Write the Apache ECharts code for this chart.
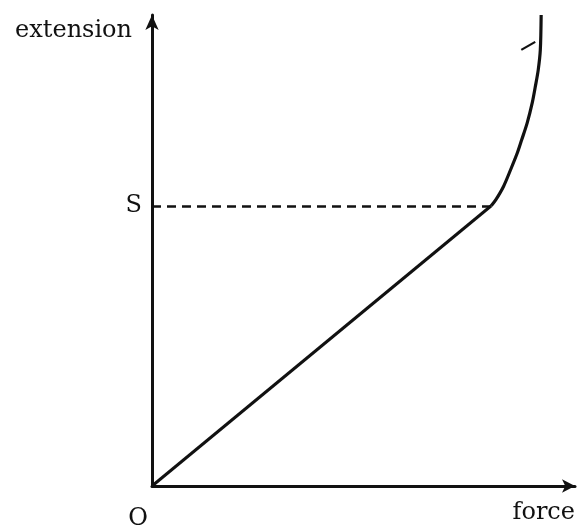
<!DOCTYPE html>
<html>
<head>
<meta charset="utf-8">
<script src="https://cdn.jsdelivr.net/npm/echarts@6/dist/echarts.min.js"></script>
<style>
  html, body { margin: 0; padding: 0; background: #fff; }
  #main { width: 578px; height: 531px; }
</style>
</head>
<body>
<div id="main"></div>
<script>
// force / extension values (axis runs 0..10 both ways)
var linearPart = [[0, 0], [8.02, 5.95]];
var curvedPart = [
  [8.02, 5.95], [8.13, 6.08], [8.31, 6.36], [8.48, 6.72], [8.64, 7.08],
  [8.74, 7.35], [8.87, 7.71], [8.99, 8.14], [9.06, 8.47], [9.13, 8.83],
  [9.18, 9.26], [9.20, 10.0]
];
var tickMark = [[8.73, 9.26], [9.06, 9.43]];
var limitS = 5.95;
var labelS = 'S';
var labelO = 'O';
var xName = 'force';
var yName = 'extension';

var ink = '#111';
var serif = 'DejaVu Serif';

var chart = echarts.init(document.getElementById('main'));

chart.setOption({
  backgroundColor: '#fff',
  animation: false,
  grid: { left: 152, top: 15, width: 425, height: 472, containLabel: false },
  xAxis: {
    type: 'value',
    min: 0, max: 10, interval: 10,
    name: xName,
    nameLocation: 'end',
    nameGap: 0,
    nameMoveOverlap: false,
    nameTextStyle: {
      color: ink, fontFamily: serif, fontSize: 24,
      align: 'right', verticalAlign: 'top', padding: [15, 0, 0, 0]
    },
    axisLine: {
      show: true, onZero: false,
      symbol: ['none', 'arrow'], symbolSize: [10, 13],
      lineStyle: { color: ink, width: 3 }
    },
    axisTick: { show: false },
    splitLine: { show: false },
    axisLabel: {
      color: ink, fontFamily: serif, fontSize: 24,
      margin: 21, align: 'right', padding: [0, 4, 0, 0],
      formatter: function(v) { return v === 0 ? labelO : ''; }
    }
  },
  yAxis: {
    type: 'value',
    min: 0, max: 10, interval: 10,
    name: yName,
    nameLocation: 'end',
    nameGap: -16,
    nameMoveOverlap: false,
    nameTextStyle: {
      color: ink, fontFamily: serif, fontSize: 24,
      align: 'right', verticalAlign: 'middle', padding: [0, 20, 0, 0]
    },
    axisLine: {
      show: true, onZero: false,
      symbol: ['none', 'arrow'], symbolSize: [10, 15],
      lineStyle: { color: ink, width: 3 }
    },
    axisTick: { show: false },
    splitLine: { show: false },
    axisLabel: { show: false }
  },
  series: [{
    type: 'line',
    data: linearPart,
    symbol: 'none',
    lineStyle: { color: ink, width: 3 },
    markLine: {
      silent: true,
      symbol: ['none', 'none'],
      lineStyle: { color: ink, width: 2.5, type: [9, 6] },
      label: {
        show: true, position: 'start', distance: 10,
        color: ink, fontFamily: serif, fontSize: 24,
        formatter: labelS
      },
      data: [[{ coord: [0, limitS] }, { coord: [linearPart[1][0], limitS] }]]
    }
  }, {
    type: 'line',
    data: curvedPart,
    symbol: 'none',
    smooth: 0.3,
    lineStyle: { color: ink, width: 3.2 }
  }, {
    type: 'line',
    data: tickMark,
    symbol: 'none',
    lineStyle: { color: ink, width: 2.2 }
  }]
});
</script>
</body>
</html>
